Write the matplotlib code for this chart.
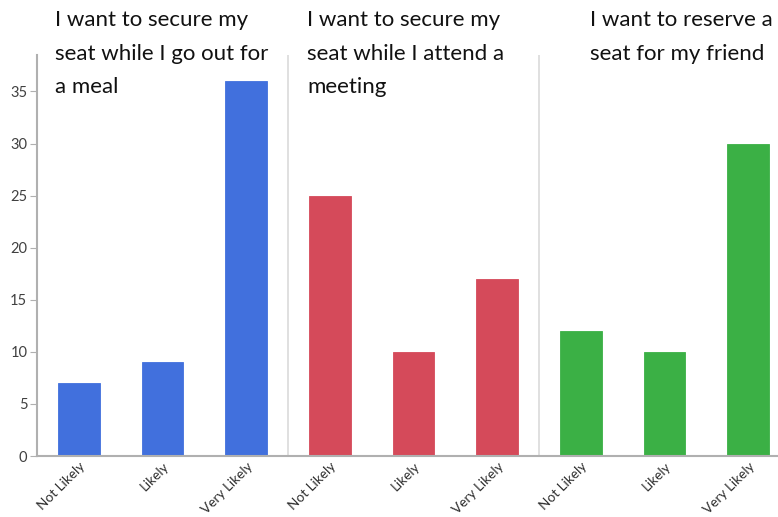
import matplotlib.pyplot as plt

answers = ["Not Likely", "Likely", "Very Likely"]
meal = [7, 9, 36]
meeting = [25, 10, 17]
friend = [12, 10, 30]
titles = [
    "I want to secure my\nseat while I go out for\na meal",
    "I want to secure my\nseat while I attend a\nmeeting",
    "I want to reserve a\nseat for my friend",
]
colors = ["#4170dd", "#d54a5a", "#3bb045"]
yticks = [0, 5, 10, 15, 20, 25, 30, 35]

plt.rcParams["font.family"] = ["Lato", "DejaVu Sans"]

fig = plt.figure(figsize=(7.78, 5.17), dpi=100)
ax = fig.add_axes([37 / 778, 61 / 517, 753 / 778, 401 / 517])

groups = [meal, meeting, friend]
labels = []
for g, (vals, col) in enumerate(zip(groups, colors)):
    xs = [g * 3 + i for i in range(len(vals))]
    ax.bar(xs, vals, width=0.5, color=col, edgecolor=col, linewidth=0.6)
    labels += answers

ax.set_xlim(-0.5, 8.5)
ax.set_ylim(0, 38.5)
for sep in (2.5, 5.5):
    ax.axvline(sep, color="#dadada", linewidth=1.2, zorder=0)

ax.set_xticks(range(9))
ax.set_xticklabels(labels, rotation=45, ha="right", rotation_mode="anchor",
                   fontsize=9.8, color="#303030")
ax.tick_params(axis="x", length=0, pad=3)
ax.set_yticks(yticks)
ax.tick_params(axis="y", length=5, color="#b0b0b0", labelsize=10.5,
               labelcolor="#404040", pad=2)

for side in ("top", "right"):
    ax.spines[side].set_visible(False)
for side in ("left", "bottom"):
    ax.spines[side].set_color("#b0b0b0")
    ax.spines[side].set_linewidth(1.5)

# panel titles sit across the top edge of the axes
title_x = [55, 307, 590]
for tx, t in zip(title_x, titles):
    fig.text(tx / 778, 1 - 10 / 517, t, ha="left", va="top", fontsize=16,
             color="#111111", linespacing=1.85)

fig.savefig("out.png", dpi=100)
